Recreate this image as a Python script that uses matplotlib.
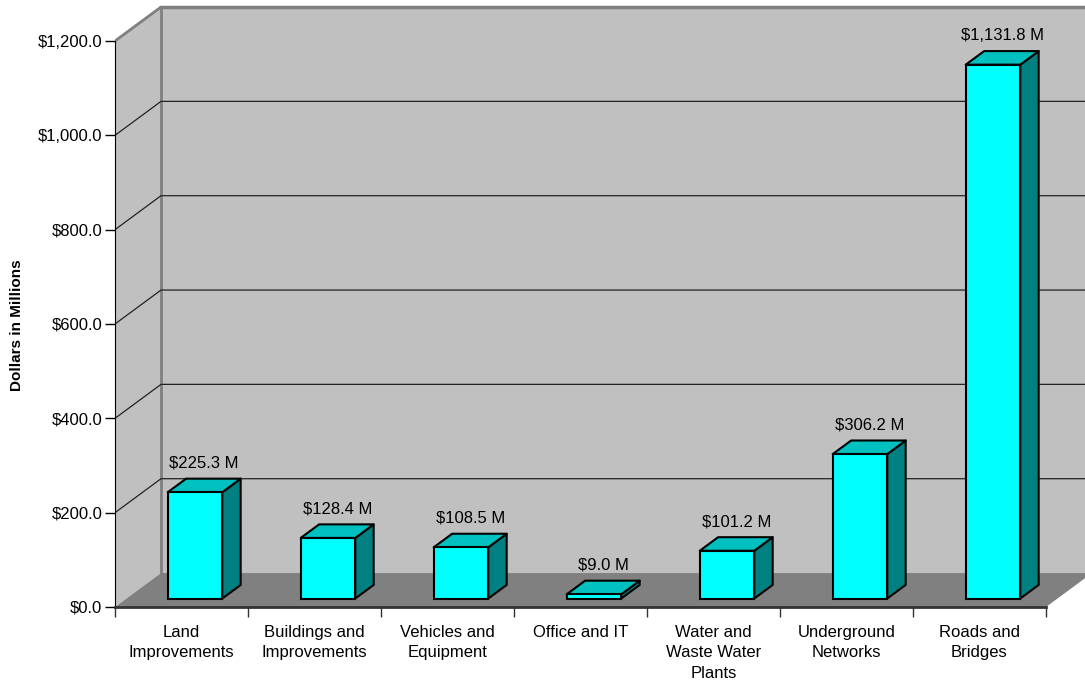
import numpy as np
import matplotlib
matplotlib.use("Agg")
import matplotlib.pyplot as plt
from matplotlib.patches import Polygon

plt.rcParams['font.family'] = ['Liberation Sans', 'DejaVu Sans']

# data
categories = ["Land\nImprovements", "Buildings and\nImprovements", "Vehicles and\nEquipment",
              "Office and IT", "Water and\nWaste Water\nPlants", "Underground\nNetworks",
              "Roads and\nBridges"]
values = [225.3, 128.4, 108.5, 9.0, 101.2, 306.2, 1131.8]
yticks = [0, 200, 400, 600, 800, 1000, 1200]

# 3d look: depth offset of the box in data units
dx, dy = 0.346, 72.0
front = 0.25      # bar front plane as fraction of depth
bdepth = 0.40     # bar depth as fraction
w = 0.41
xmax, ymax = 970 / 133.0, 1280.0
n = len(values)

fig = plt.figure(figsize=(10.85, 6.84), dpi=100)
ax = fig.add_axes([115 / 1085, (684 - 607) / 684, 970 / 1085, ymax * 0.47167 / 684])
ax.set_xlim(0, xmax)
ax.set_ylim(0, ymax)

wall = '#c0c0c0'
edge = '#808080'
# left wall
ax.add_patch(Polygon([(0, 0), (dx, dy), (dx, 1200 + dy), (0, 1200)], closed=True,
                     fc=wall, ec='none', zorder=1))
ax.plot([0, dx], [1200, 1200 + dy], color=edge, lw=2, zorder=2, solid_capstyle='butt')
# back wall
ax.add_patch(Polygon([(dx, dy), (xmax + 1, dy), (xmax + 1, 1200 + dy), (dx, 1200 + dy)],
                     closed=True, fc=wall, ec='none', zorder=1))
ax.plot([dx, dx], [dy, 1200 + dy], color=edge, lw=2, zorder=2)
ax.plot([dx, xmax], [1200 + dy, 1200 + dy], color=edge, lw=2.5, zorder=2)
# gridlines
for v in yticks[1:-1]:
    ax.plot([0, dx, xmax], [v, v + dy, v + dy], color='#222222', lw=0.9, zorder=2)
# floor
ax.add_patch(Polygon([(0, 0), (n, 0), (n + dx, dy), (dx, dy)], closed=True,
                     fc='#808080', ec='none', zorder=3))

# bars
for i, v in enumerate(values):
    x0 = i + 0.515 - w / 2 + front * dx
    y0 = front * dy
    ox, oy = bdepth * dx, bdepth * dy
    ax.add_patch(Polygon([(x0 + w, y0), (x0 + w + ox, y0 + oy), (x0 + w + ox, y0 + v + oy),
                          (x0 + w, y0 + v)], closed=True, fc='#008080', ec='black',
                         lw=1.5, zorder=4, joinstyle='round'))
    ax.add_patch(Polygon([(x0, y0 + v), (x0 + w, y0 + v), (x0 + w + ox, y0 + v + oy),
                          (x0 + ox, y0 + v + oy)], closed=True, fc='#00c0c0', ec='black',
                         lw=1.5, zorder=4, joinstyle='round'))
    ax.bar(x0, v, width=w, bottom=y0, align='edge', color='#00ffff', edgecolor='black',
           linewidth=1.5, zorder=5)
    ax.annotate("${:,.1f} M".format(v), (x0 + w / 2 + ox / 2, y0 + v + oy),
                xytext=(0, 11), textcoords='offset points', ha='center', va='center',
                fontsize=12, zorder=6)

# axes
for s in ['top', 'right']:
    ax.spines[s].set_visible(False)
ax.spines['left'].set_bounds(0, 1200)
ax.spines['bottom'].set_bounds(0, n)
ax.spines['bottom'].set_linewidth(2)
ax.spines['bottom'].set_color('#333333')
ax.spines['bottom'].set_zorder(6)
ax.spines['left'].set_zorder(6)

ax.set_yticks(yticks)
ax.set_yticklabels(["${:,.1f}".format(t) for t in yticks])
ax.tick_params(axis='y', length=7, width=1, pad=2, labelsize=12)
ax.set_xticks(np.arange(n + 1))
ax.set_xticklabels([])
ax.tick_params(axis='x', which='major', length=7.5, width=1, color='#333333')
ax.set_xticks(np.arange(n) + 0.5, minor=True)
ax.set_xticklabels(categories, minor=True, fontsize=12, linespacing=1.45, va='top')
ax.tick_params(axis='x', which='minor', length=0, pad=13)

fig.text(17 / 1085, 1 - 325 / 684, "Dollars in Millions", rotation=90, ha='center',
         va='center', fontsize=11, fontweight='bold')

fig.savefig("out.png", dpi=100)
